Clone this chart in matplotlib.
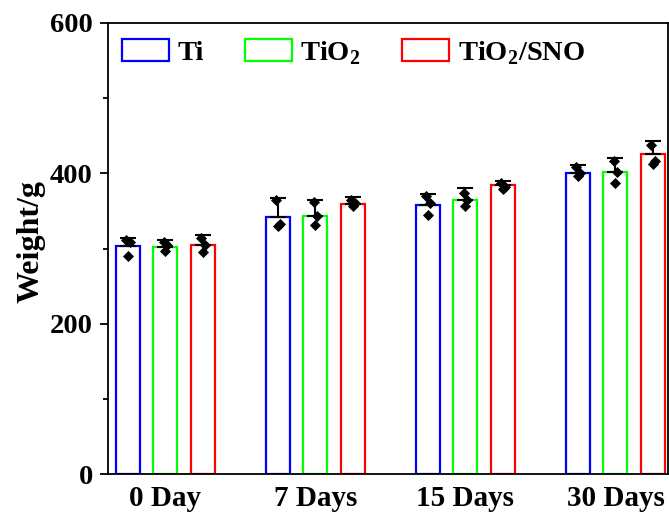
import matplotlib
matplotlib.use("Agg")
import matplotlib.pyplot as plt
import numpy as np
from matplotlib.ticker import MultipleLocator

plt.rcParams['font.family'] = ['Liberation Serif', 'DejaVu Serif']
plt.rcParams['font.weight'] = 'bold'
plt.rcParams['mathtext.fontset'] = 'custom'
plt.rcParams['mathtext.rm'] = 'Liberation Serif:bold'
plt.rcParams['mathtext.bf'] = 'Liberation Serif:bold'

# data
days = ['0 Day', '7 Days', '15 Days', '30 Days']
groups = ['Ti', 'TiO$_2$', 'TiO$_2$/SNO']
colors = ['#0000ff', '#00ff00', '#ff0000']

ti_mean = [303, 342, 358, 401]
tio2_mean = [302, 343, 365, 402]
sno_mean = [305, 359, 384, 426]

ti_err = [11, 25, 15, 10]
tio2_err = [9, 21, 15, 18]
sno_err = [13, 10, 6, 17]

ti_pts = [[311, 308, 290], [365, 333, 330], [370, 360, 345], [409, 401, 396]]
tio2_pts = [[309, 305, 297], [362, 343, 331], [374, 364, 356], [416, 402, 387]]
sno_pts = [[314, 305, 295], [365, 360, 356], [387, 382, 379], [438, 417, 412]]

means = [ti_mean, tio2_mean, sno_mean]
errs = [ti_err, tio2_err, sno_err]
pts = [ti_pts, tio2_pts, sno_pts]

x = np.arange(len(days))
width = 0.16
offsets = [-0.25, 0, 0.25]
jitter = [-0.012, 0.012, 0.0]

fig = plt.figure(figsize=(6.69, 5.18), dpi=100)
ax = fig.add_axes([0.1614, 0.0849, 0.8371, 0.8707])

for g in range(3):
    xs = x + offsets[g]
    ax.bar(xs, means[g], width, facecolor='white', edgecolor=colors[g],
           linewidth=1.6, label=groups[g], zorder=2)
    ax.errorbar(xs, means[g], yerr=[np.zeros(4), errs[g]], fmt='none',
                ecolor='black', elinewidth=1.5, capsize=6, capthick=1.5, zorder=3)
    for i in range(4):
        ax.scatter(xs[i] + np.array(jitter), pts[g][i], marker='D', s=32,
                   color='black', zorder=4, linewidths=0)

ax.set_xlim(-0.383, 3.35)
ax.set_ylim(0, 600)
ax.set_xticks(x)
ax.set_xticklabels(days)
ax.yaxis.set_major_locator(MultipleLocator(200))
ax.yaxis.set_minor_locator(MultipleLocator(100))
ax.tick_params(axis='y', which='major', direction='out', length=6, width=1.3,
               labelsize=20.5, pad=5)
ax.tick_params(axis='y', which='minor', direction='out', length=3.5, width=1.3)
ax.tick_params(axis='x', length=0, labelsize=21, pad=8)
ax.set_ylabel('Weight/g', fontsize=23, fontweight='bold')
ax.yaxis.set_label_coords(-0.112, 0.515)
for s in ax.spines.values():
    s.set_linewidth(1.3)

leg = ax.legend(loc='upper left', ncol=3, frameon=False, fontsize=20.5,
                handlelength=1.65, handleheight=0.8, handletextpad=0.3,
                columnspacing=1.45, borderpad=0.3, bbox_to_anchor=(-0.016, 1.0155))

fig.savefig('out.png', dpi=100)
